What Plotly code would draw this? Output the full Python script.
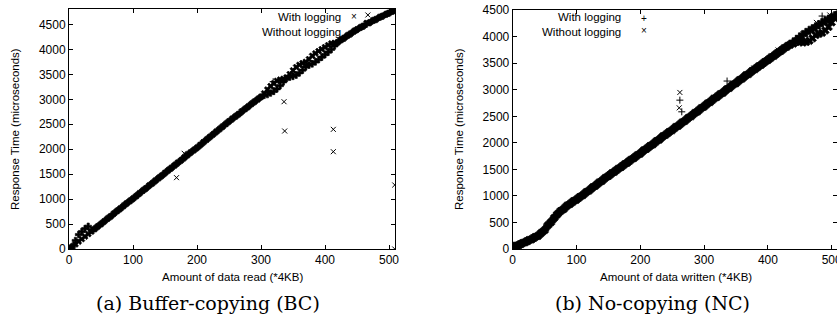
import plotly.graph_objects as go

# ---------------- data ----------------
amount = [0, 5, 10, 15, 20, 25, 30, 35, 40, 45, 50, 55, 60, 65, 70, 75, 80, 85, 90, 95,
          100, 105, 110, 115, 120, 125, 130, 135, 140, 145, 150, 155, 160, 165, 170, 175,
          180, 185, 190, 195, 200, 205, 210, 215, 220, 225, 230, 235, 240, 245, 250, 255,
          260, 265, 270, 275, 280, 285, 290, 295, 300, 305, 310, 315, 320, 325, 330, 335,
          340, 345, 350, 355, 360, 365, 370, 375, 380, 385, 390, 395, 400, 405, 410, 415,
          420, 425, 430, 435, 440, 445, 450, 455, 460, 465, 470, 475, 480, 485, 490, 495,
          500, 505, 510]

# (a) Buffer-copying: read response time
bc_with = [0, 45, 95, 150, 200, 250, 300, 350, 400, 455, 500, 555, 605, 655, 710, 760, 810, 860, 915, 960,
           1010, 1060, 1115, 1165, 1215, 1270, 1315, 1370, 1420, 1470, 1525, 1575, 1625, 1675, 1730, 1775,
           1830, 1880, 1935, 1980, 2030, 2085, 2140, 2190, 2245, 2295, 2350, 2400, 2455, 2505, 2560, 2610,
           2655, 2705, 2760, 2805, 2855, 2905, 2955, 3000, 3050, 3120, 3195, 3265, 3320, 3370, 3395, 3410,
           3440, 3505, 3580, 3645, 3690, 3725, 3750, 3805, 3870, 3920, 3965, 4005, 4045, 4085, 4120, 4130,
           4145, 4190, 4230, 4275, 4315, 4360, 4400, 4435, 4470, 4530, 4540, 4575, 4605, 4640, 4670, 4700,
           4730, 4760, 4790]
bc_without = [0, 50, 170, 290, 350, 410, 455, 370, 405, 450, 505, 550, 610, 650, 705, 765, 805, 865, 910, 965,
              1005, 1065, 1110, 1170, 1210, 1265, 1320, 1365, 1425, 1465, 1520, 1580, 1620, 1680, 1720, 1780,
              1825, 1885, 1930, 1985, 2025, 2080, 2135, 2195, 2240, 2300, 2345, 2405, 2450, 2510, 2555, 2605,
              2660, 2700, 2750, 2810, 2850, 2910, 2950, 3005, 3045, 3080, 3095, 3125, 3160, 3210, 3275, 3350,
              3420, 3445, 3460, 3485, 3530, 3585, 3650, 3685, 3710, 3750, 3795, 3845, 3895, 3945, 4000, 4070,
              4140, 4195, 4225, 4280, 4310, 4365, 4395, 4440, 4465, 4510, 4535, 4580, 4600, 4645, 4665, 4705,
              4725, 4765, 4785]
bc_with_out_x = [168, 180, 336, 337, 413, 413, 467, 509, 509]
bc_with_out_y = [1430, 1918, 2952, 2365, 2398, 1950, 4690, 1283, 0]
bc_without_out_x = [319]
bc_without_out_y = [3353]

# (b) No-copying: written response time
nc_with = [40, 55, 80, 105, 135, 160, 190, 220, 255, 300, 360, 440, 510, 580, 660, 710, 760, 810, 855, 895,
           935, 975, 1020, 1065, 1110, 1155, 1200, 1245, 1290, 1335, 1380, 1420, 1465, 1505, 1550, 1590,
           1635, 1675, 1720, 1760, 1805, 1850, 1895, 1935, 1980, 2025, 2070, 2115, 2160, 2200, 2245, 2290,
           2330, 2375, 2420, 2465, 2510, 2555, 2600, 2645, 2690, 2735, 2780, 2825, 2870, 2910, 2955, 3000,
           3045, 3090, 3130, 3175, 3220, 3265, 3305, 3350, 3395, 3435, 3480, 3520, 3565, 3605, 3650, 3690,
           3735, 3775, 3820, 3860, 3900, 3950, 3995, 4040, 4080, 4120, 4150, 4185, 4225, 4265, 4300, 4330,
           4360, 4395, 4420]
nc_without = [35, 60, 75, 110, 130, 165, 185, 225, 250, 305, 355, 445, 505, 585, 655, 715, 755, 815, 850, 900,
              930, 980, 1015, 1070, 1105, 1160, 1195, 1250, 1285, 1340, 1375, 1425, 1460, 1510, 1545, 1595,
              1630, 1680, 1715, 1765, 1800, 1855, 1890, 1940, 1975, 2030, 2065, 2120, 2155, 2205, 2240, 2295,
              2325, 2380, 2415, 2470, 2505, 2560, 2595, 2650, 2685, 2740, 2775, 2830, 2865, 2915, 2950, 3005,
              3040, 3095, 3125, 3180, 3215, 3270, 3300, 3355, 3390, 3440, 3475, 3525, 3560, 3610, 3645, 3695,
              3730, 3780, 3815, 3850, 3870, 3910, 3900, 3890, 3900, 3925, 3970, 4030, 4055, 4075, 4120, 4185,
              4270, 4350, 4415]
nc_with_out_x = [262, 265, 336, 485]
nc_with_out_y = [2805, 2585, 3165, 4390]
nc_without_out_x = [262, 261, 378, 416, 455, 476, 497]
nc_without_out_y = [2950, 2660, 3410, 3750, 4060, 4270, 4410]

x_ticks = [0, 100, 200, 300, 400, 500]
y_ticks = [0, 500, 1000, 1500, 2000, 2500, 3000, 3500, 4000, 4500]

# ---------------- figure ----------------
W, H = 837, 325
SANS = "Liberation Sans, Arial, Helvetica, sans-serif"
SERIF = "DejaVu Serif, serif"

def px(xp):
    return xp / W

def py(yp):
    return (H - yp) / H

def band(sym, size):
    return dict(symbol=sym, size=size, color="black", line=dict(width=0.6, color="black"))

def thin(sym):
    return dict(symbol=sym, size=5, color="black", line=dict(width=1, color="black"))

fig = go.Figure()
# (a) series: dense band + isolated points
fig.add_trace(go.Scatter(x=amount, y=bc_with, mode="markers", marker=band("x", 5.5),
                         name="With logging", xaxis="x", yaxis="y"))
fig.add_trace(go.Scatter(x=amount, y=bc_without, mode="markers", marker=band("cross", 5.5),
                         name="Without logging", xaxis="x", yaxis="y"))
fig.add_trace(go.Scatter(x=bc_with_out_x, y=bc_with_out_y, mode="markers", marker=thin("x-thin"),
                         name="With logging", xaxis="x", yaxis="y"))
fig.add_trace(go.Scatter(x=bc_without_out_x, y=bc_without_out_y, mode="markers", marker=thin("cross-thin"),
                         name="Without logging", xaxis="x", yaxis="y"))
# (b) series
fig.add_trace(go.Scatter(x=amount, y=nc_with, mode="markers", marker=band("cross", 7),
                         name="With logging", xaxis="x2", yaxis="y2"))
fig.add_trace(go.Scatter(x=amount, y=nc_without, mode="markers", marker=band("x", 7),
                         name="Without logging", xaxis="x2", yaxis="y2"))
fig.add_trace(go.Scatter(x=nc_with_out_x, y=nc_with_out_y, mode="markers", marker=thin("cross-thin"),
                         name="With logging", xaxis="x2", yaxis="y2"))
fig.add_trace(go.Scatter(x=nc_without_out_x, y=nc_without_out_y, mode="markers", marker=thin("x-thin"),
                         name="Without logging", xaxis="x2", yaxis="y2"))

axis_common = dict(showline=True, linecolor="black", linewidth=1, mirror="ticks", ticks="inside",
                   ticklen=4, tickcolor="black", showgrid=False, zeroline=False, automargin=False,
                   ticklabeloverflow="allow",
                   tickfont=dict(family=SANS, size=12, color="black"))

fig.update_layout(
    template="none",
    width=W, height=H, margin=dict(l=0, r=0, t=0, b=0, pad=0), autosize=False,
    paper_bgcolor="white", plot_bgcolor="white", showlegend=False, hovermode=False,
    xaxis=dict(domain=[px(69), px(395.4)], range=[0, 510], tickvals=x_ticks, anchor="y", **axis_common),
    yaxis=dict(domain=[py(249), py(9)], range=[0, 4810], tickvals=y_ticks, anchor="x", **axis_common),
    xaxis2=dict(domain=[px(512.7), 1.0], range=[0, 508.3], tickvals=x_ticks, anchor="y2", **axis_common),
    yaxis2=dict(domain=[py(249), py(10.2)], range=[0, 4500], tickvals=y_ticks, anchor="x2", **axis_common),
)

ann = []
def text(t, x, y, size, family=SANS, xanchor="center", angle=0, align="center"):
    ann.append(dict(text=t, x=px(x), y=py(y), xref="paper", yref="paper", showarrow=False,
                    xanchor=xanchor, yanchor="middle", textangle=angle, align=align,
                    font=dict(family=family, size=size, color="black")))

# axis titles
text("Amount of data read (*4KB)", 232, 277, 11.5)
text("Amount of data written (*4KB)", 676, 277, 11.5)
text("Response Time (microseconds)", 15, 129, 11.5, angle=-90)
text("Response Time (microseconds)", 459, 129, 11.5, angle=-90)
# legends (key text right-aligned, symbol after it)
text("With logging<br>Without logging", 343, 24.5, 11.5, xanchor="right", align="right")
text("×", 354, 17, 10)
text("+", 354, 30, 10)
text("With logging<br>Without logging", 623, 25, 11.5, xanchor="right", align="right")
text("+", 644, 19, 10)
text("×", 644, 30.5, 10)
# captions
text("(a) Buffer-copying (BC)", 208, 303, 19, family=SERIF)
text("(b) No-copying (NC)", 652, 303, 19, family=SERIF)

fig.update_layout(annotations=ann)
fig.write_html("out.html", config={"displayModeBar": False, "staticPlot": True},
               post_script="document.body.style.margin='0';document.body.style.overflow='hidden';")
